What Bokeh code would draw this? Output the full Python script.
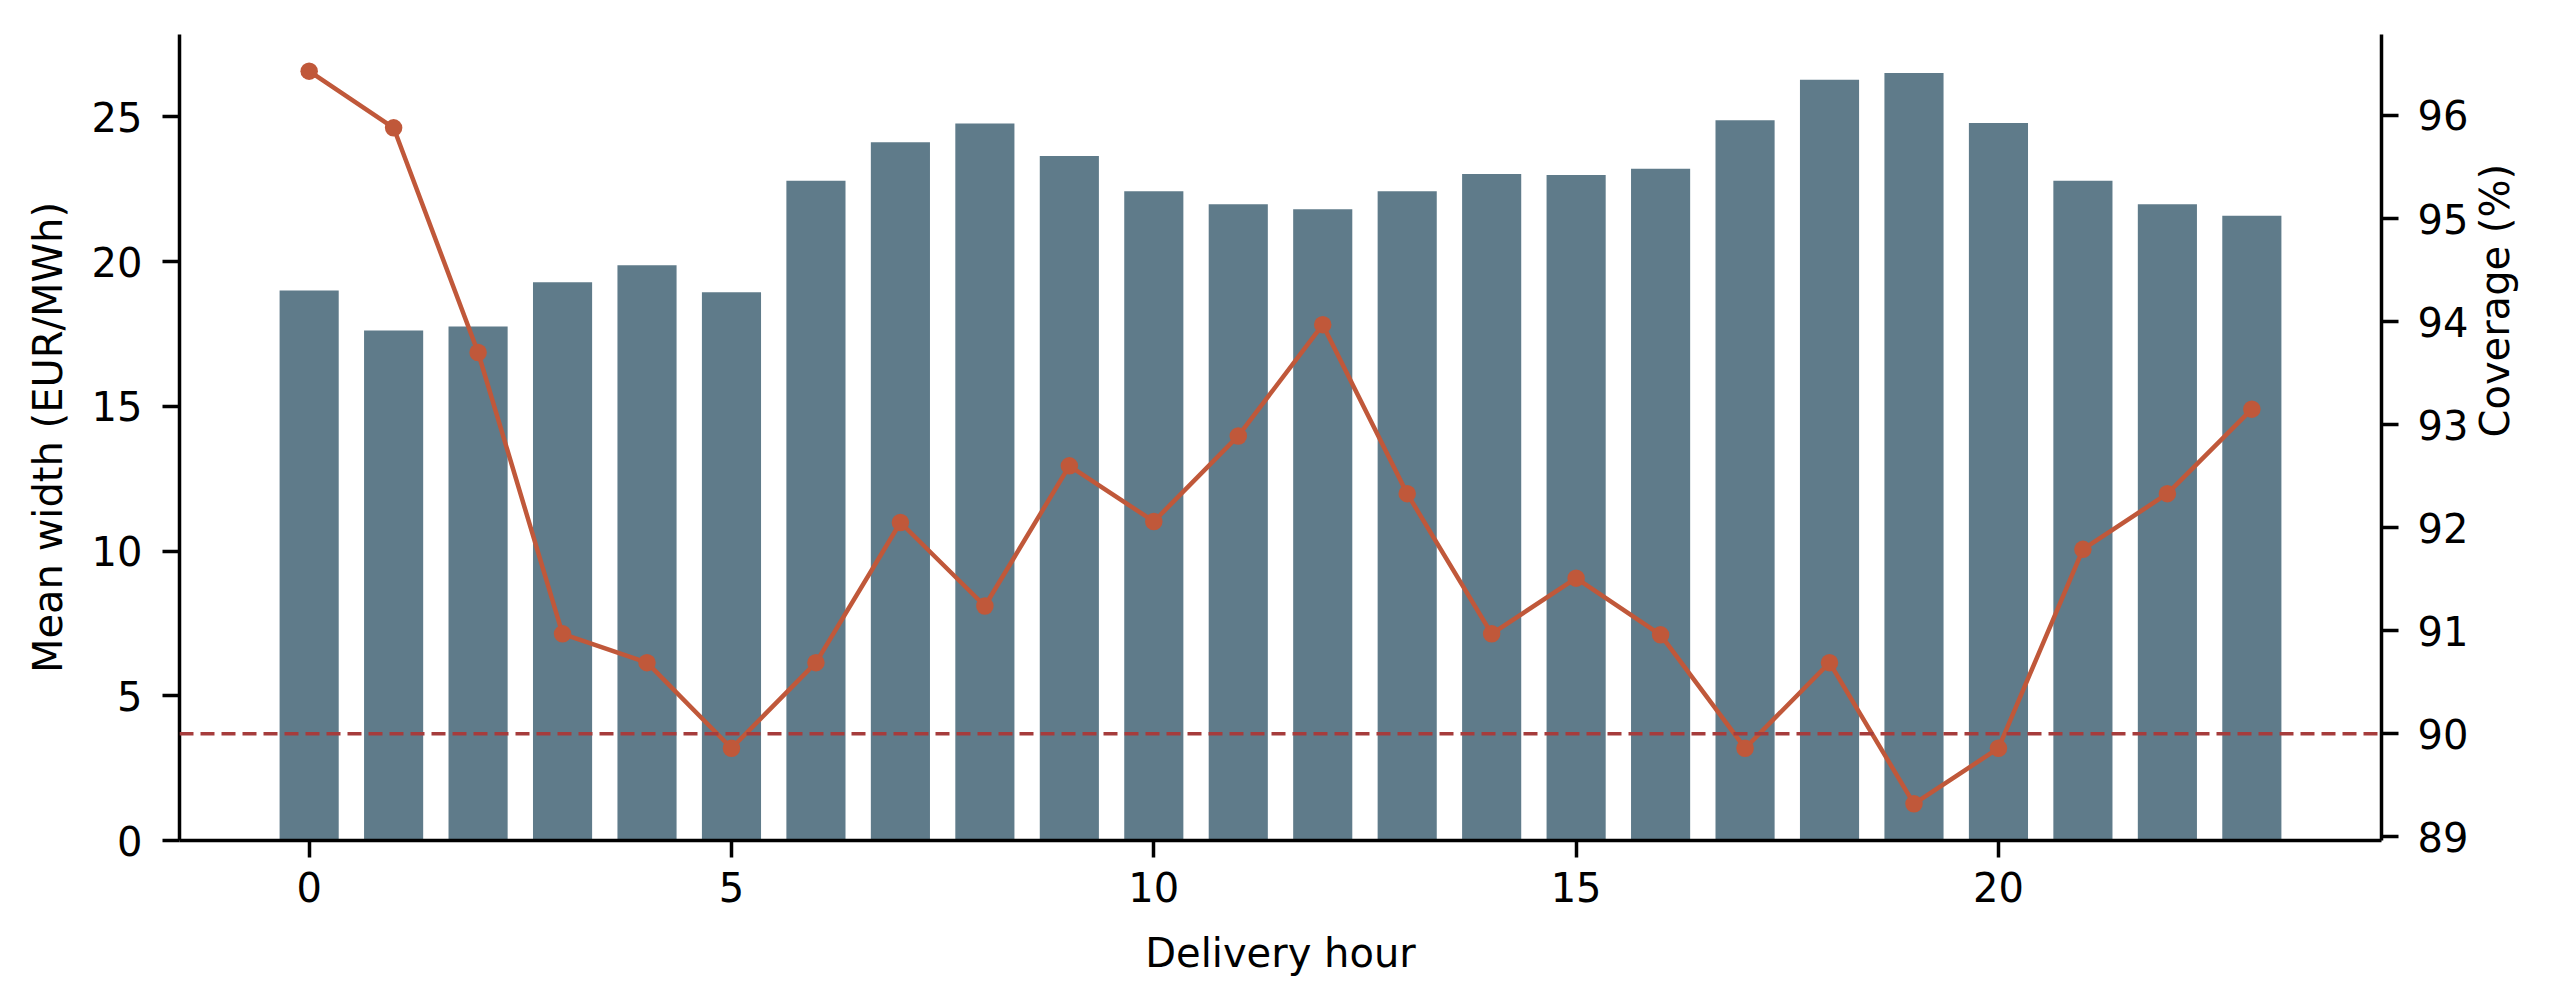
import math
from bokeh.plotting import figure
from bokeh.models import Range1d, LinearAxis, FixedTicker, Span, ColumnDataSource
from bokeh.embed import file_html
from bokeh.resources import INLINE

# ---- data ----
hours = list(range(24))
mean_width = [19.00, 17.62, 17.76, 19.29, 19.87, 18.94, 22.79, 24.12, 24.77, 23.65,
              22.43, 21.98, 21.81, 22.43, 23.03, 22.99, 23.21, 24.88, 26.28, 26.52,
              24.79, 22.79, 21.98, 21.58]
coverage = [96.43, 95.88, 93.70, 90.97, 90.69, 89.86, 90.69, 92.05, 91.24, 92.60,
            92.06, 92.89, 93.97, 92.33, 90.97, 91.51, 90.96, 89.86, 90.69, 89.32,
            89.86, 91.79, 92.33, 93.15]
target_coverage = 90
x_ticks = [0, 5, 10, 15, 20]
left_ticks = [0, 5, 10, 15, 20, 25]
right_ticks = [89, 90, 91, 92, 93, 94, 95, 96]

BAR_W = 0.7
BAR_COLOR = "#5F7B8A"
LINE_COLOR = "#C0583A"
DASH_COLOR = "#A63C3C"
FONT = "DejaVu Sans"

# matplotlib-like autoscale margins (5%)
xlo, xhi = min(hours) - BAR_W / 2, max(hours) + BAR_W / 2
xm = 0.05 * (xhi - xlo)
ytop = max(mean_width) * 1.05
clo, chi = min(coverage), max(coverage)
cm = 0.05 * (chi - clo)

src = ColumnDataSource(dict(hour=hours, width=mean_width, cov=coverage))

p = figure(width=2544, height=992, output_backend="svg", toolbar_location=None,
           x_range=Range1d(xlo - xm, xhi + xm), y_range=Range1d(0, ytop),
           min_border_left=179, min_border_right=162, min_border_top=34,
           min_border_bottom=152)
p.outline_line_color = None
p.xgrid.visible = False
p.ygrid.visible = False
p.background_fill_color = "white"
p.border_fill_color = "white"

p.extra_y_ranges = {"cov": Range1d(clo - cm, chi + cm)}
raxis = LinearAxis(y_range_name="cov")
p.add_layout(raxis, "right")

p.vbar(x="hour", top="width", width=BAR_W, source=src, fill_color=BAR_COLOR,
       line_color=None)

span = Span(location=target_coverage, dimension="width", y_range_name="cov",
            line_color=DASH_COLOR, line_width=3.5, line_dash="14 7")
p.add_layout(span)

p.line(x="hour", y="cov", source=src, y_range_name="cov", line_color=LINE_COLOR,
       line_width=4.5)
p.scatter(x="hour", y="cov", source=src, y_range_name="cov", size=17.5,
          fill_color=LINE_COLOR, line_color=None)

p.xaxis.ticker = FixedTicker(ticks=x_ticks)
p.yaxis.ticker = FixedTicker(ticks=left_ticks)
raxis.ticker = FixedTicker(ticks=right_ticks)

p.xaxis.axis_label = "Delivery hour"
p.yaxis.axis_label = "Mean width (EUR/MWh)"
raxis.axis_label = "Coverage (%)"
raxis.axis_label_orientation = math.pi / 2

for ax in [p.xaxis[0], p.yaxis[0], raxis]:
    ax.axis_line_width = 3.5
    ax.axis_line_color = "black"
    ax.major_tick_line_width = 3.5
    ax.major_tick_line_color = "black"
    ax.major_tick_out = 17
    ax.major_tick_in = 0
    ax.minor_tick_out = 0
    ax.minor_tick_in = 0
    ax.major_label_text_font = FONT
    ax.major_label_text_font_size = "40px"
    ax.major_label_text_color = "black"
    ax.axis_label_text_font = FONT
    ax.axis_label_text_font_size = "40px"
    ax.axis_label_text_font_style = "normal"
    ax.axis_label_text_color = "black"

p.xaxis.major_label_standoff = 14
p.xaxis.axis_label_standoff = 25
p.yaxis.major_label_standoff = 20
p.yaxis.axis_label_standoff = 18
raxis.major_label_standoff = 19
raxis.axis_label_standoff = 24

open("out.html", "w").write(file_html(p, INLINE))
